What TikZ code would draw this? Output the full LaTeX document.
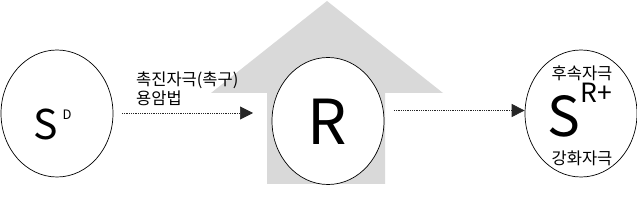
\documentclass[tikz,border=0pt]{standalone}
\usepackage{fontspec}
\setmainfont{Noto Sans CJK KR}
\usetikzlibrary{shapes.geometric,arrows.meta}
\definecolor{housegray}{HTML}{D9D9D9}
\definecolor{arrowdark}{HTML}{262626}
\tikzset{
  oval/.style={ellipse, draw=black, line width=0.7pt, fill=white, inner sep=0pt,
    minimum width=112pt, minimum height=127pt},
  conn/.style={draw=arrowdark, line width=0.7pt, dash pattern=on 0.9pt off 0.9pt,
    -{Triangle[length=13pt,width=13pt,fill=arrowdark]}},
  lbl/.style={inner sep=0pt, text=black},
  kor/.style={lbl, font=\fontsize{16.5}{19}\selectfont}
}
\begin{document}
\begin{tikzpicture}[x=1pt,y=-1pt]
\useasboundingbox (0,0) rectangle (637,208);
% house-shaped background arrow
\fill[housegray] (267,184) -- (267,93) -- (211,93) -- (327,1) -- (443,93) -- (385,93) -- (385,184) -- cycle;
% ellipses
\node[oval] (sd) at (57,113.5) {};
\node[oval] (r) at (328,121) {};
\node[oval] (sp) at (581,113.5) {};
% texts in ellipses
\node[lbl, anchor=base, font=\fontsize{41}{41}\selectfont] (sdS) at (46,139.5) {S};
\node[lbl, anchor=base, font=\fontsize{13}{13}\selectfont] (sdD) at (67,120) {D};
\node[lbl, anchor=base, font=\fontsize{62}{62}\selectfont] (rR) at (327.5,145) {R};
\node[lbl, anchor=base, font=\fontsize{55}{55}\selectfont] (spS) at (564,136.5) {S};
\node[lbl, anchor=base, font=\fontsize{26.5}{26.5}\selectfont] (spR) at (596.5,103) {R+};
\node[kor] (after) at (582,73.5) {후속자극};
\node[kor] (reinf) at (582,158) {강화자극};
% connectors
\coordinate (a1s) at (122,113);
\coordinate (a1e) at (253,113);
\coordinate (a2s) at (394,110.5);
\draw[conn] (a1s) -- (a1e);
\draw[conn] (a2s) -- (a2s -| sp.west);
\node[kor, anchor=west, align=left] (prompt) at (136,89) {촉진자극(촉구)\\용암법};
\end{tikzpicture}
\end{document}
